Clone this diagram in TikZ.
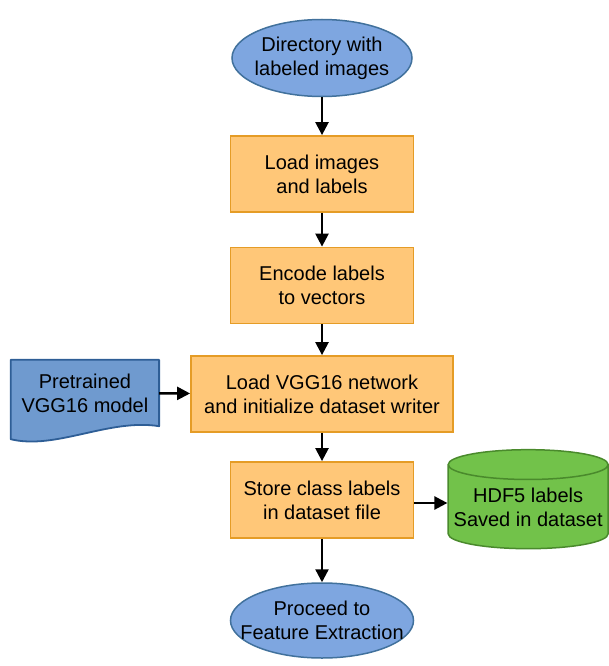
\documentclass[tikz,border=0pt]{standalone}
\usepackage{fontspec}
\setmainfont{Liberation Sans}
\usetikzlibrary{positioning,shapes.geometric,arrows.meta}

\definecolor{ovalfill}{HTML}{7EA6E0}
\definecolor{ovalline}{HTML}{41719C}
\definecolor{stepfill}{HTML}{FFC778}
\definecolor{stepline}{HTML}{E59C26}
\definecolor{docfill}{HTML}{6F9ACF}
\definecolor{docline}{HTML}{2E5E96}
\definecolor{cylfill}{HTML}{72C24A}
\definecolor{cylline}{HTML}{4A8A2C}

\begin{document}
\begin{tikzpicture}[x=1pt, y=1pt, >={Triangle[length=13pt,width=13pt]},
	every node/.style={align=center, font=\fontsize{20}{24}\selectfont, inner sep=0pt},
	oval/.style={draw=ovalline, fill=ovalfill, ellipse, line width=1.5pt, inner xsep=-20pt},
	stepbox/.style={draw=stepline, fill=stepfill, rectangle, line width=1.8pt, minimum width=183pt, minimum height=76pt},
	store/.style={draw=cylline, fill=cylfill, cylinder, shape border rotate=90, aspect=0.2, line width=1.5pt}]
	\useasboundingbox (0,0) rectangle (608,-666);
	\begin{scope}
	\node (dir) [oval, minimum width=180pt, minimum height=77pt] at (322,-58) {Directory with\\labeled images};
	\node (load) [stepbox] at (322,-174) {Load images\\and labels};
	\node (enc) [stepbox] at (322,-285.5) {Encode labels\\to vectors};
	\node (vgg) [stepbox, minimum width=262pt] at (322,-394) {Load VGG16 network\\and initialize dataset writer};
	\node (save) [stepbox] at (322,-500) {Store class labels\\in dataset file};
	\node (proc) [oval, minimum width=183pt, minimum height=75pt] at (322,-620.5) {Proceed to\\Feature Extraction};
	\node (model) [left=31pt of vgg, minimum width=148pt, minimum height=66pt, yshift=1pt] {Pretrained\\VGG16 model};
	\node (hdf) [store, right=33pt of save, minimum width=160pt, minimum height=99pt, yshift=-7pt] {HDF5 labels\\Saved in dataset};
	
	% document shape behind the text
	\fill [docfill] (model.north west) -- (model.north east) -- (model.south east)
		.. controls +(-50pt,8pt) and +(45pt,-11pt) .. ([yshift=-13pt]model.south west) -- cycle;
	\draw [docline, line width=1.8pt, line join=round] (model.north west) -- (model.north east) -- (model.south east)
		.. controls +(-50pt,8pt) and +(45pt,-11pt) .. ([yshift=-13pt]model.south west) -- cycle;
	\node at (model) {Pretrained\\VGG16 model};
	
	\draw [line width=2.4pt,->] (dir) -- (load);
	\draw [line width=2.4pt,->] (load) -- (enc);
	\draw [line width=2.4pt,->] (enc) -- (vgg);
	\draw [line width=2.4pt,->] (vgg) -- (save);
	\draw [line width=2.4pt,->] (save) -- (proc);
	\draw [line width=2.4pt,->] (model) -- (vgg);
	\draw [line width=2.4pt,->] ([yshift=-3pt]save.east) -- ([yshift=-3pt]save.east -| hdf.west);
	\end{scope}
\end{tikzpicture}
\end{document}
